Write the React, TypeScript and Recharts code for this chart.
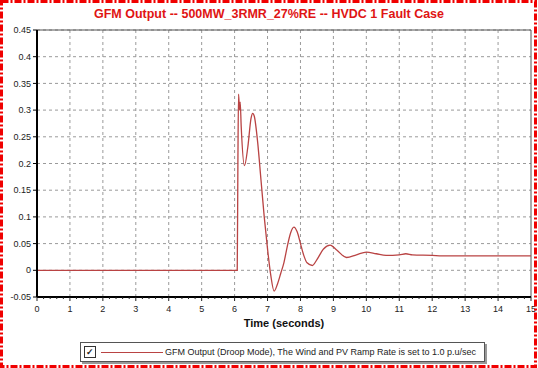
import {
  LineChart,
  Line,
  XAxis,
  YAxis,
  CartesianGrid,
  ReferenceLine,
  Legend,
} from "recharts";

const TITLE = "GFM Output -- 500MW_3RMR_27%RE -- HVDC 1 Fault Case";
const SERIES_NAME =
  "GFM Output (Droop Mode), The Wind and PV Ramp Rate is set to 1.0 p.u/sec";

// time (s) and GFM output (p.u.)
const TIME = [
  0, 6.08, 6.1, 6.12, 6.15, 6.17, 6.2, 6.3, 6.4, 6.5, 6.55, 6.6, 6.7, 6.8,
  6.9, 7.0, 7.1, 7.2, 7.3, 7.4, 7.5, 7.6, 7.7, 7.8, 7.9, 8.0, 8.1, 8.2, 8.36,
  8.5, 8.7, 8.9, 9.1, 9.4, 9.7, 10.0, 10.3, 10.6, 11.0, 11.2, 11.4, 12.0,
  12.3, 13, 14, 15,
];
const GFM = [
  0, 0, 0.2, 0.33, 0.3, 0.315, 0.27, 0.196, 0.23, 0.285, 0.294, 0.288, 0.24,
  0.17, 0.1, 0.04, -0.01, -0.039, -0.026, -0.006, 0.015, 0.045, 0.07, 0.081,
  0.072, 0.05, 0.028, 0.014, 0.009, 0.02, 0.04, 0.047, 0.038, 0.024, 0.029,
  0.034, 0.031, 0.028, 0.029, 0.031, 0.029, 0.028, 0.027, 0.027, 0.027,
  0.027,
];

const X_MAJOR = [0, 1, 2, 3, 4, 5, 6, 7, 8, 9, 10, 11, 12, 13, 14, 15];
const Y_TICKS = [-0.05, 0, 0.05, 0.1, 0.15, 0.2, 0.25, 0.3, 0.35, 0.4, 0.45];

const data = TIME.map((t, i) => ({ t, v: GFM[i] }));
// minor ticks every 0.2 s between the labelled seconds
const xTicks = Array.from({ length: 76 }, (_, i) => Math.round(i * 2) / 10);

const FONT = "'Liberation Sans', Arial, sans-serif";
const LINE_COLOR = "#b94343";

const XTick = ({ x, y, payload }: any) => {
  const major = Number.isInteger(payload.value);
  return (
    <g>
      <line x1={x} x2={x} y1={y} y2={y + (major ? 4 : 2)} stroke="#222" />
      {major && (
        <text
          x={x}
          y={y + 15}
          textAnchor="middle"
          fontSize={9}
          fontFamily={FONT}
          fill="#222"
        >
          {payload.value}
        </text>
      )}
    </g>
  );
};

const LegendBox = () => (
  <div
    style={{
      width: 405,
      height: 20,
      boxSizing: "border-box",
      border: "1px solid #555",
      boxShadow: "2px 2px 0 #999",
      background: "#fff",
      display: "flex",
      alignItems: "center",
      fontFamily: FONT,
      fontSize: 9,
      color: "#222",
    }}
  >
    <div
      style={{
        width: 10,
        height: 10,
        border: "1px solid #333",
        marginLeft: 3,
        fontSize: 9,
        lineHeight: "10px",
        textAlign: "center",
        fontWeight: "bold",
      }}
    >
      ✓
    </div>
    <div
      style={{
        width: 62,
        height: 0,
        borderTop: `1px solid ${LINE_COLOR}`,
        marginLeft: 5,
        marginRight: 2,
      }}
    />
    <span>{SERIES_NAME}</span>
  </div>
);

export default function App() {
  return (
    <div
      style={{
        position: "absolute",
        left: 0,
        top: 0,
        width: 538,
        height: 368,
        background: "#fff",
      }}
    >
      <div
        style={{
          position: "absolute",
          left: 0,
          top: 7,
          width: 538,
          textAlign: "center",
          fontFamily: FONT,
          fontWeight: "bold",
          fontSize: 12.5,
          color: "#e01414",
        }}
      >
        {TITLE}
      </div>
      <LineChart
        width={538}
        height={368}
        data={data}
        margin={{ top: 30, right: 7, bottom: 41, left: 3 }}
      >
        <CartesianGrid
          vertical={false}
          strokeDasharray="3 3"
          stroke="#9a9a9a"
        />
        {X_MAJOR.slice(1, -1).map((x) => (
          <ReferenceLine
            key={x}
            x={x}
            stroke="#9a9a9a"
            strokeDasharray="3 3"
          />
        ))}
        <ReferenceLine y={0.45} stroke="#555" />
        <ReferenceLine x={15} stroke="#555" />
        <XAxis
          dataKey="t"
          type="number"
          domain={[0, 15]}
          ticks={xTicks}
          interval={0}
          tick={<XTick />}
          tickLine={false}
          tickSize={0}
          tickMargin={0}
          axisLine={{ stroke: "#000", strokeWidth: 2 }}
          height={30}
          label={{
            value: "Time (seconds)",
            position: "insideBottom",
            offset: 0,
            style: {
              fontFamily: FONT,
              fontSize: 11,
              fontWeight: "bold",
              fill: "#111",
            },
          }}
        />
        <YAxis
          type="number"
          domain={[-0.05, 0.45]}
          ticks={Y_TICKS}
          interval={0}
          width={34}
          tickSize={4}
          tickMargin={2}
          tickLine={{ stroke: "#000" }}
          axisLine={{ stroke: "#000", strokeWidth: 2 }}
          tick={{ fontSize: 9, fontFamily: FONT, fill: "#222" }}
        />
        <Legend
          verticalAlign="middle"
          layout="horizontal"
          wrapperStyle={{ top: 342, left: 80, width: 405 }}
          content={() => <LegendBox />}
        />
        <Line
          type="monotone"
          dataKey="v"
          stroke={LINE_COLOR}
          strokeWidth={1.3}
          dot={false}
          isAnimationActive={false}
        />
      </LineChart>
      <svg
        width={538}
        height={368}
        style={{ position: "absolute", left: 0, top: 0, pointerEvents: "none" }}
      >
        <rect
          x={1.5}
          y={1.5}
          width={534}
          height={365}
          fill="none"
          stroke="#f00000"
          strokeWidth={3}
          strokeDasharray="7 2 2 2"
        />
      </svg>
    </div>
  );
}
